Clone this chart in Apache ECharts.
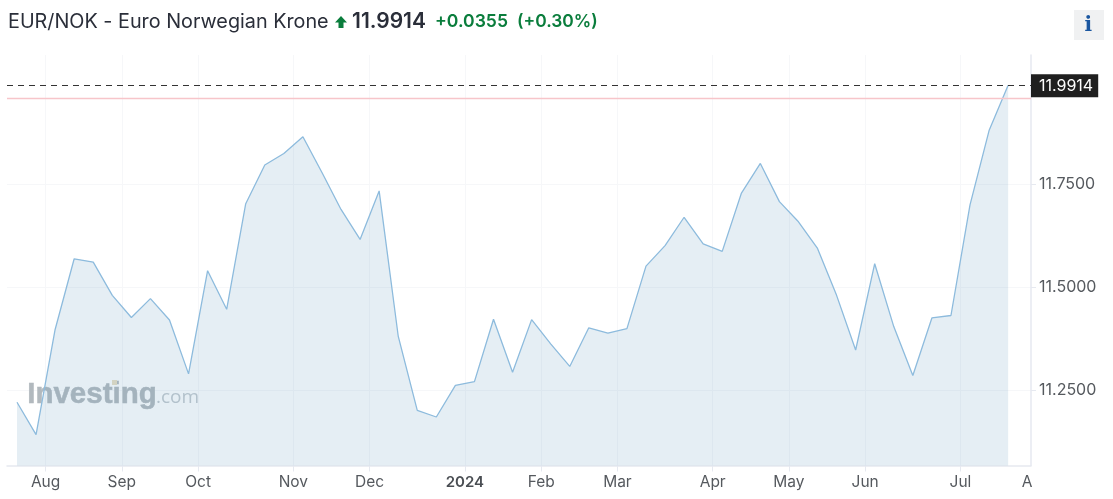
<!DOCTYPE html>
<html><head><meta charset="utf-8">
<style>html,body{margin:0;padding:0;background:#fff}#c{width:1113px;height:499px}</style>
<script src="https://cdn.jsdelivr.net/npm/echarts@6/dist/echarts.min.js"></script>
</head><body><div id="c"></div>
<script>
const prices = [11.220,11.141,11.397,11.569,11.561,11.480,11.426,11.472,11.420,11.289,11.540,11.446,11.703,11.797,11.825,11.866,11.779,11.689,11.616,11.734,11.381,11.200,11.184,11.261,11.270,11.422,11.293,11.421,11.362,11.307,11.401,11.388,11.399,11.551,11.601,11.670,11.605,11.587,11.728,11.801,11.708,11.659,11.594,11.480,11.347,11.557,11.404,11.285,11.425,11.431,11.700,11.881,11.9914];
const monthPositions = [1.5,5.5,9.5,14.5,18.5,23.5,27.5,31.5,36.5,40.5,44.5,49.5];
const monthLabels = ['Aug','Sep','Oct','Nov','Dec','2024','Feb','Mar','Apr','May','Jun','Jul'];
const clippedPosition = 53;
const clippedLabel = 'A';
const yTicks = [11.25,11.5,11.75];
const lastPrice = 11.9914;
const resistance = 11.9556;

const font = 'Inter, Roboto, sans-serif';
const chart = echarts.init(document.getElementById('c'));
chart.setOption({
  animation:false,
  grid:{left:7,right:82,top:55,bottom:33.5},
  xAxis:{type:'value',min:-0.525,max:53.2,
    axisLine:{show:true,onZero:false,lineStyle:{color:'#e6e9f0',width:1.5}},
    axisTick:{show:true,length:6,customValues:monthPositions,lineStyle:{color:'#e6e9f0'}},
    axisLabel:{show:true,customValues:monthPositions.concat([clippedPosition]),hideOverlap:false,showMinLabel:true,showMaxLabel:true,
      color:'#55595e',fontFamily:font,fontSize:15.5,margin:9,
      formatter:v=>{
        if(v===clippedPosition) return clippedLabel;
        const s=monthLabels[monthPositions.indexOf(v)];
        return s==='2024'?'{b|2024}':s;
      },
      rich:{b:{fontWeight:600,color:'#4a4e53',fontFamily:font,fontSize:15}}},
    splitLine:{show:true,lineStyle:{color:'#f6f7f9',width:1}}},
  yAxis:{type:'value',position:'right',min:11.066,max:12.0648,
    axisLine:{show:true,onZero:false,lineStyle:{color:'#e6e9f0',width:1.5}},
    axisTick:{show:true,length:5,customValues:yTicks,lineStyle:{color:'#e6e9f0'}},
    axisLabel:{customValues:yTicks,color:'#55595e',fontFamily:font,fontSize:16,margin:8,formatter:v=>v.toFixed(4)},
    splitLine:{show:true,lineStyle:{color:'#f6f7f9',width:1}}},
  series:[{type:'line',data:prices.map((p,i)=>[i,p]),showSymbol:false,
    lineStyle:{color:'#8dbbdd',width:1.3},
    areaStyle:{color:'#5c94bd',opacity:0.16,origin:'start'},
    markLine:{silent:true,symbol:'none',animation:false,
      data:[
        {yAxis:resistance,lineStyle:{color:'#f7c5ca',type:'solid',width:1.3},label:{show:false}},
        {yAxis:lastPrice,lineStyle:{color:'#333',type:[6,5],width:1},
         label:{show:true,position:'end',distance:0,formatter:lastPrice.toFixed(4),color:'#fff',backgroundColor:'#1f1f1f',
           fontFamily:font,fontSize:16,padding:[4,5,4,8],lineHeight:15}}
      ]}}],
  graphic:[
    {type:'text',left:8,top:12,style:{text:'EUR/NOK - Euro Norwegian Krone',font:'400 19.8px '+font,fill:'#2a2e39'}},
    {type:'polygon',shape:{points:[[341,16],[347,22.5],[343.5,22.5],[343.5,28],[338.5,28],[338.5,22.5],[335,22.5]]},style:{fill:'#0a7d3c'}},
    {type:'text',left:352,top:11.5,style:{text:lastPrice.toFixed(4),font:'600 21px '+font,fill:'#2a2e39'}},
    {type:'text',left:435,top:13,style:{text:'+0.0355',font:'600 17.6px '+font,fill:'#0a7d3c'}},
    {type:'text',left:517,top:13,style:{text:'(+0.30%)',font:'600 17.4px '+font,fill:'#0a7d3c'}},
    {type:'rect',shape:{x:1074,y:10,width:30,height:30},style:{fill:'#f0f1f2'}},
    {type:'text',left:1084.5,top:16,style:{text:'i',font:'bold 20px "DejaVu Serif", serif',fill:'#1a56a0'}},
    {type:'text',left:27,top:380,z:1,style:{text:'Investing',font:'bold 29.5px "Liberation Sans", sans-serif',fill:'#b2b9be',stroke:'#b2b9be',lineWidth:0.5,letterSpacing:-1}},
    {type:'rect',z:1,shape:{x:112,y:380,width:5,height:5},style:{fill:'#eadfc4'}},
    {type:'text',left:156,top:388,z:1,style:{text:'.com',font:'400 19px "Open Sans", sans-serif',fill:'#c3cacf'}}
  ]
});
</script></body></html>
